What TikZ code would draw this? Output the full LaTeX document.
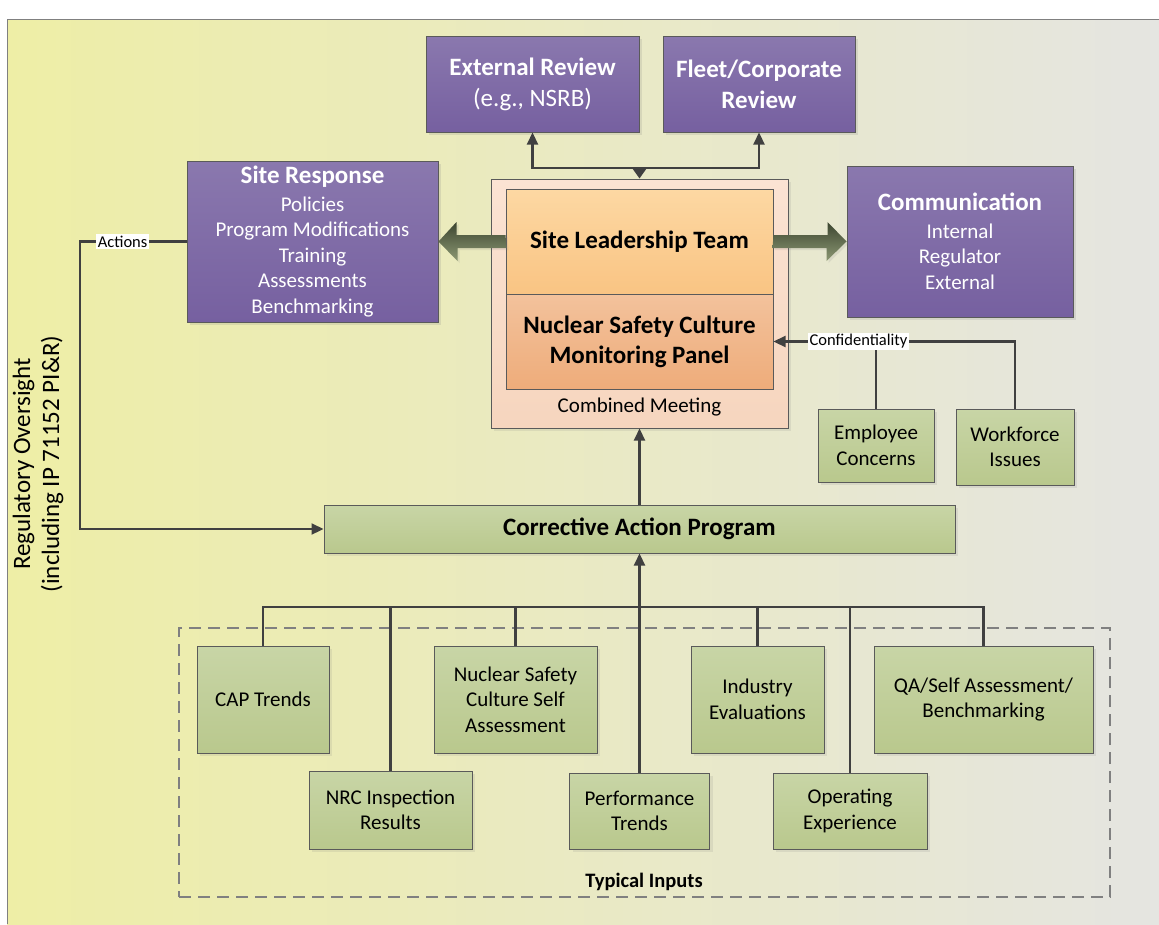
\documentclass[tikz,border=0pt]{standalone}
\usepackage{fontspec}
\setmainfont{Carlito}
\usepackage{tikz}
\usetikzlibrary{arrows.meta,shadows}

\definecolor{bgleft}{HTML}{EEEEA6}
\definecolor{bgright}{HTML}{E5E5E1}
\definecolor{purpletop}{HTML}{8A78AE}
\definecolor{purplebot}{HTML}{7660A0}
\definecolor{greentop}{HTML}{C8D5A6}
\definecolor{greenbot}{HTML}{B9C88D}
\definecolor{slttop}{HTML}{FDD8A3}
\definecolor{sltbot}{HTML}{F9C483}
\definecolor{paneltop}{HTML}{F3C29C}
\definecolor{panelbot}{HTML}{EEAC7A}
\definecolor{meettop}{HTML}{FBE3D3}
\definecolor{meetbot}{HTML}{F6D5BE}
\definecolor{boxedge}{HTML}{5A5A5A}
\definecolor{linegray}{HTML}{404040}
\definecolor{arrowtop}{HTML}{3C4530}
\definecolor{arrowbot}{HTML}{8C9873}

\begin{document}
\begin{tikzpicture}[x = 1pt, y = -1pt,
        purplebox/.style = {draw=boxedge, line width=1pt, top color=purpletop,
          bottom color=purplebot, text=white, align=center, inner sep=0pt,
          drop shadow={opacity=.18, shadow xshift=3pt, shadow yshift=-3pt}},
        greenbox/.style = {draw=boxedge, line width=1pt, top color=greentop,
          bottom color=greenbot, align=center, inner sep=0pt,
          font=\fontsize{21}{25.5}\selectfont,
          drop shadow={opacity=.15, shadow xshift=3pt, shadow yshift=-3pt}},
        link/.style = {draw=linegray, line width=2.2pt},
        conn/.style = {link, -{Triangle[length=12pt, width=11pt]}},
        tag/.style = {fill=white, inner sep=1.5pt, font=\fontsize{16.5}{19}\selectfont},
        blockarrow/.style = {top color=arrowtop, bottom color=arrowbot,
          drop shadow={opacity=.15, shadow xshift=2pt, shadow yshift=-2pt}}]
        \useasboundingbox (0,0) rectangle (1159,924);
        \fill[white] (0,0) rectangle (1159,924);
        \fill[left color=bgleft, right color=bgright] (7,19) rectangle (1159,924);
        \draw[gray, line width=1pt] (7,924) -- (7,19) -- (1159,19);

        % review boxes
        \node[purplebox, minimum width=213pt, minimum height=96pt,
              font=\fontsize{25}{31}\selectfont] (extrev) at (532.5,84)
              {\bfseries External Review\\(e.g., NSRB)};
        \node[purplebox, minimum width=192pt, minimum height=96pt,
              font=\fontsize{25}{31}\selectfont\bfseries] (fleet) at (759,84)
              {Fleet/Corporate\\Review};

        % combined meeting
        \node[draw=boxedge, line width=1pt, top color=meettop, bottom color=meetbot,
              minimum width=297pt, minimum height=249pt,
              drop shadow={opacity=.15, shadow xshift=3pt, shadow yshift=-3pt}]
              (meet) at (639.5,303.5) {};
        \node[draw=boxedge, line width=1pt, top color=slttop, bottom color=sltbot,
              minimum width=267pt, minimum height=105pt,
              font=\fontsize{25}{30}\selectfont\bfseries] (slt) at (639.5,241.5)
              {Site Leadership Team};
        \node[draw=boxedge, line width=1pt, top color=paneltop, bottom color=panelbot,
              minimum width=267pt, minimum height=95pt, align=center,
              font=\fontsize{25}{30}\selectfont\bfseries] (panel) at (639.5,341.5)
              {Nuclear Safety Culture\\Monitoring Panel};
        \node[font=\fontsize{21}{25}\selectfont] (meetlbl) at (639.5,407) {Combined Meeting};

        % site response and communication
        \node[purplebox, minimum width=251pt, minimum height=161pt,
              font=\fontsize{21}{25.5}\selectfont] (resp) at (312.5,241.5)
              {{\fontsize{25}{29}\selectfont\bfseries Site Response}\\[2pt]
               Policies\\Program Modifications\\Training\\Assessments\\Benchmarking};
        \node[purplebox, minimum width=226pt, minimum height=151pt,
              font=\fontsize{21}{25.5}\selectfont] (comm) at (960,241.5)
              {{\fontsize{25}{29}\selectfont\bfseries Communication}\\[2pt]
               Internal\\Regulator\\External};

        % block arrows
        \path[blockarrow] (slt.west) ++(0,-6.5) -- ++(-49,0) -- ++(0,-13) --
              (resp.east) -- ++(19,19.5) -- ++(0,-13) -- ++(49,0) -- cycle;
        \path[blockarrow] (slt.east) ++(0,-6.5) -- ++(54,0) -- ++(0,-13) --
              (comm.west) -- ++(-20,19.5) -- ++(0,-13) -- ++(-54,0) -- cycle;

        % confidential inputs
        \node[greenbox, minimum width=116pt, minimum height=73pt] (emp) at (876,445.5)
              {Employee\\Concerns};
        \node[greenbox, minimum width=118pt, minimum height=76pt] (work) at (1015,447)
              {Workforce\\Issues};

        % corrective action program
        \node[greenbox, minimum width=631pt, minimum height=48pt,
              font=\fontsize{25}{30}\selectfont\bfseries] (cap) at (639.5,529)
              {Corrective Action Program};

        % typical inputs
        \node[draw=gray, line width=1.6pt, dash pattern=on 12pt off 7pt,
              minimum width=931pt, minimum height=269pt] (inputs) at (644.5,762.5) {};
        \node[font=\fontsize{20.5}{24}\selectfont\bfseries] (inputslbl) at (644,882)
              {Typical Inputs};
        \node[greenbox, minimum width=132pt, minimum height=107pt] (captrend) at (263,699.5)
              {CAP Trends};
        \node[greenbox, minimum width=163pt, minimum height=78pt] (nrc) at (390.5,810)
              {NRC Inspection\\Results};
        \node[greenbox, minimum width=163pt, minimum height=107pt] (nscsa) at (515.5,699.5)
              {Nuclear Safety\\Culture Self\\Assessment};
        \node[greenbox, minimum width=140pt, minimum height=76pt] (perf) at (639.5,811)
              {Performance\\Trends};
        \node[greenbox, minimum width=133pt, minimum height=107pt] (indeval) at (757.5,699.5)
              {Industry\\Evaluations};
        \node[greenbox, minimum width=154pt, minimum height=76pt] (opexp) at (850,811)
              {Operating\\Experience};
        \node[greenbox, minimum width=219pt, minimum height=107pt] (qa) at (983.5,699.5)
              {QA/Self Assessment/\\Benchmarking};

        % connectors
        \node[rotate=90, align=center, font=\fontsize{25}{29}\selectfont] (oversight)
              at (38,464) {Regulatory Oversight\\(including IP 71152 PI\&R)};
        \coordinate (fork) at (639.5,168);
        \draw[link, {Triangle[length=12pt, width=11pt]}-{Triangle[length=12pt, width=11pt]}]
              (extrev.south) |- (fork) -| (fleet.south);
        \draw[link, -{Triangle[length=11pt, width=15pt]}] (fork) -- (meet.north);
        \draw[link] (emp.north) -- (emp.north |- panel.east);
        \draw[conn] (work.north) |- node[tag, pos=.824] (conf) {Confidentiality} (panel.east);
        \coordinate (actturn) at (80,241.5);
        \draw[conn] (resp.west) -- node[tag, pos=.6] (act) {Actions} (actturn) |- (cap.west);
        \draw[conn] (cap.north) -- (meet.south);
        \coordinate (bus) at (639.5,607);
        \draw[conn] (perf.north) -- (cap.south);
        \draw[link] (captrend.north) |- (bus);
        \draw[link] (nrc.north) |- (bus);
        \draw[link] (nscsa.north) |- (bus);
        \draw[link] (indeval.north) |- (bus);
        \draw[link] (opexp.north) |- (bus);
        \draw[link] (qa.north) |- (bus);
\end{tikzpicture}
\end{document}
